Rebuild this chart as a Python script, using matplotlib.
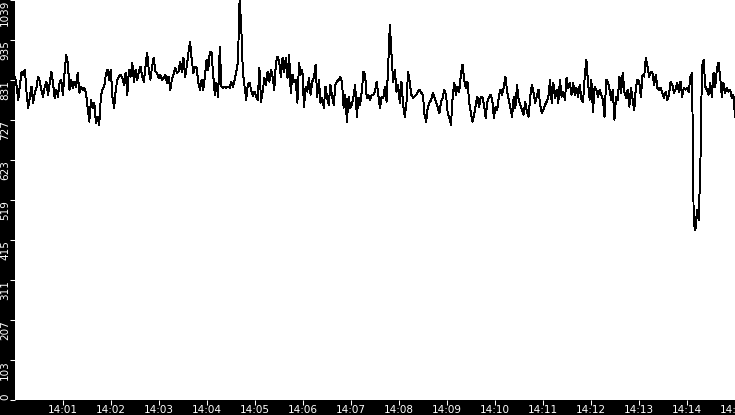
import numpy as np
import pandas as pd
import matplotlib
matplotlib.use("Agg")
import matplotlib.pyplot as plt
import matplotlib.dates as mdates

# readings taken off the trace, one every ~2 s from 14:00 to 14:15
values = [
    840, 814, 780, 819, 853, 845, 858, 798, 759, 788, 814, 772, 798, 811, 840, 827,
    806, 788, 814, 827, 793, 824, 853, 824, 785, 806, 788, 824, 832, 793, 850, 897,
    876, 806, 832, 811, 827, 814, 850, 798, 814, 806, 811, 798, 759, 723, 780, 759,
    772, 720, 736, 715, 788, 806, 814, 845, 858, 832, 858, 788, 759, 806, 832, 840,
    845, 837, 819, 850, 793, 858, 840, 876, 827, 858, 832, 853, 866, 840, 827, 866,
    902, 858, 832, 866, 889, 853, 850, 837, 845, 832, 837, 845, 824, 840, 806, 832,
    845, 863, 850, 853, 879, 853, 889, 840, 866, 902, 931, 884, 850, 866, 863, 824,
    806, 832, 806, 840, 884, 858, 905, 902, 845, 793, 824, 788, 918, 814, 811, 814,
    811, 814, 811, 827, 814, 832, 853, 879, 1039, 970, 850, 814, 780, 819, 824, 806,
    790,
    801, 788, 780, 863, 775, 801, 837, 819, 853, 827, 858, 840, 806, 876, 892, 879,
    840, 889, 853, 889, 837, 897, 798, 845, 827, 832, 772, 876, 845, 858, 762, 814,
    801, 837, 793, 827, 837, 871, 788, 832, 772, 785, 759, 814, 785, 767, 819, 788,
    767, 819, 827, 832, 840, 827, 759, 793, 723, 788, 759, 767, 788, 819, 736, 785,
    767, 801, 853, 845, 785, 793, 780, 793,
    793, 801, 827, 793, 759, 788, 785, 814, 775, 871, 975, 897, 827, 858, 801, 819,
    772, 827, 767, 736, 767, 853, 827, 793, 785, 788, 793, 801, 806, 798, 793, 741,
    723, 762, 772, 780, 798, 785, 775, 759, 746, 775, 785, 806, 793, 746, 733, 715,
    785, 824, 793, 814, 801, 845, 871, 832, 811, 827, 775, 746, 723, 741, 767, 788,
    762, 785, 788, 767, 733, 775, 785, 793,
    780, 733, 762, 754, 788, 806, 793, 814, 840, 801, 780, 759, 736, 788, 759, 819,
    780, 767, 754, 741, 775, 749, 736, 788, 819, 798, 772, 788, 806, 767, 746, 754,
    767, 775, 788, 832, 772, 824, 785, 806, 772, 832, 788, 801, 780, 837, 811, 824,
    793, 824, 793, 811, 788, 819, 780, 775, 840, 884, 824, 780, 832, 749, 814, 806,
    788, 806, 793, 780, 736, 832, 827, 806, 780,
    806, 728, 788, 780, 840, 798, 850, 801, 785, 806, 762, 811, 780, 754, 814, 832,
    827, 788, 845, 840, 889, 866, 840, 853, 850, 819, 845, 811, 806, 811, 798, 785,
    801, 780, 793, 827, 819, 798, 806, 824, 801, 827, 788, 811, 806, 811, 801, 840,
    850, 460, 442, 494, 468, 600, 866, 884, 814, 806, 793, 824, 788, 850, 814, 858,
    876, 840, 788, 824, 798, 811, 801, 806, 785, 793, 736,
]
ytick_labels = ["0", "103", "207", "311", "415", "519", "623", "727", "831", "935", "1039"]
y_max = 1039
t_start = "2021-01-01 14:00:00"
t_end = "2021-01-01 14:15:00"

times = pd.date_range(t_start, t_end, periods=len(values))

fig = plt.figure(figsize=(7.35, 4.15), dpi=100, facecolor="black")
ax = fig.add_axes([15 / 735, 15 / 415, 720 / 735, 400 / 415])
ax.set_facecolor("white")

ax.plot(times, values, color="black", linewidth=0.7, antialiased=False)

ax.set_xlim(pd.Timestamp(t_start), pd.Timestamp(t_end))
ax.set_ylim(0, y_max)

# minute ticks, 14:00 itself is not labelled
ax.set_xticks(pd.date_range(t_start, t_end, freq="1min")[1:])
ax.xaxis.set_major_formatter(mdates.DateFormatter("%H:%M"))
ax.set_yticks(np.linspace(0, y_max, len(ytick_labels)))
ax.set_yticklabels(ytick_labels, rotation=90, va="top")
ax.get_yticklabels()[0].set_va("bottom")

ax.tick_params(axis="both", colors="white", labelcolor="white", labelsize=7.5,
               direction="out", length=3.5, width=0.75, pad=0)

for s in ax.spines.values():
    s.set_visible(False)

fig.savefig("out.png", dpi=100, facecolor="black")
